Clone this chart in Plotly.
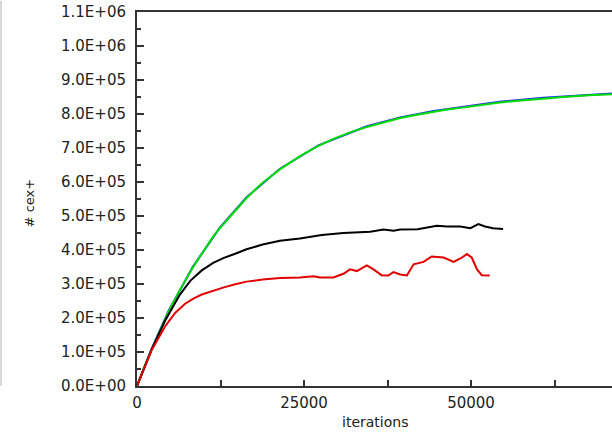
import plotly.graph_objects as go

# iterations / values
green_x = [0, 1000, 2200, 3500, 4700, 6400, 8400, 10000, 11400, 12400, 14500, 16400, 18800, 21400,
           24400, 27150, 29400, 31900, 34400, 36900, 39400, 41900, 44400, 46400, 48400, 51300,
           54300, 57500, 60800, 64300, 67600, 71100]
green_y = [0, 52000, 108000, 168000, 218000, 282000, 350000, 398000, 440000, 464000, 512000, 553000,
           598000, 637000, 676000, 706000, 727000, 746000, 762000, 776000, 788000, 798000, 807000,
           813000, 818000, 826000, 834000, 840000, 846000, 851000, 855000, 858000]
blue_x = [0, 2200, 4700, 8400, 12400, 16400, 21400, 27150, 34400, 39400, 44400, 48400, 54300,
          60800, 67600, 71100]
blue_y = [0, 110000, 220000, 352000, 466000, 555000, 639000, 708000, 764000, 790000, 809000,
          820000, 836000, 848000, 856000, 860000]
black_x = [0, 2200, 4200, 5200, 6400, 8000, 9700, 11400, 13000, 14700, 16400, 18800, 21400, 24400,
           25400, 27650, 30900, 34900, 36900, 38400, 39400, 42000, 44900, 46400, 48400, 49900,
           51100, 52100, 53300, 54800]
black_y = [0, 108000, 192000, 225000, 268000, 310000, 340000, 362000, 377000, 389000, 402000,
           416000, 427000, 434000, 437000, 444000, 450000, 454000, 460000, 457000, 460000, 461000,
           471000, 469000, 469000, 464000, 476000, 469000, 464000, 462000]
red_x = [0, 2200, 4200, 5700, 7200, 8500, 9700, 11400, 13000, 14700, 16400, 18800, 21400, 24400,
         26400, 27400, 29400, 30900, 31900, 32900, 34400, 35400, 36600, 37600, 38400, 39400, 40400,
         41400, 42900, 44100, 45900, 47400, 48400, 49400, 50100, 50900, 51600, 52800]
red_y = [0, 106000, 175000, 215000, 242000, 258000, 269000, 281000, 290000, 299000, 307000, 313000,
         318000, 319000, 323000, 319000, 319000, 330000, 343000, 338000, 355000, 343000, 326000,
         325000, 335000, 328000, 325000, 358000, 365000, 381000, 378000, 365000, 375000, 388000,
         378000, 343000, 326000, 325000]

y_tickvals = [0, 100000, 200000, 300000, 400000, 500000, 600000, 700000, 800000, 900000, 1000000, 1100000]
y_ticktext = ["0.0E+00", "1.0E+05", "2.0E+05", "3.0E+05", "4.0E+05", "5.0E+05", "6.0E+05",
              "7.0E+05", "8.0E+05", "9.0E+05", "1.0E+06", "1.1E+06"]
x_tickvals = [0, 25000, 50000]
x_ticktext = ["0", "25000", "50000"]

FONT = "DejaVu Sans"
fig = go.Figure()
fig.add_trace(go.Scatter(x=blue_x, y=blue_y, mode="lines", line=dict(color="#2a2aff", width=2)))
fig.add_trace(go.Scatter(x=green_x, y=green_y, mode="lines", line=dict(color="#00dd00", width=2)))
fig.add_trace(go.Scatter(x=black_x, y=black_y, mode="lines", line=dict(color="#000000", width=2)))
fig.add_trace(go.Scatter(x=red_x, y=red_y, mode="lines", line=dict(color="#e00000", width=2)))

fig.update_layout(
    width=612, height=432,
    margin=dict(l=137, r=0, t=12, b=46),
    paper_bgcolor="white", plot_bgcolor="white",
    showlegend=False,
    font=dict(family=FONT, size=14, color="#222222"),
    xaxis=dict(range=[0, 71100], showgrid=False, zeroline=False,
               showline=True, linecolor="#333333", linewidth=2, mirror=True,
               tickvals=x_tickvals, ticktext=x_ticktext, ticks="inside", ticklen=6,
               tickwidth=2, tickcolor="#333333",
               minor=dict(tickvals=[12500, 37500, 62500], ticks="inside", ticklen=6,
                          tickwidth=2, tickcolor="#333333"),
               tickfont=dict(family=FONT, size=15), ticklabelstandoff=2),
    yaxis=dict(range=[0, 1100000], showgrid=False, zeroline=False,
               showline=True, linecolor="#333333", linewidth=2,
               tickvals=y_tickvals, ticktext=y_ticktext, ticks="inside", ticklen=7,
               tickwidth=2, tickcolor="#333333",
               minor=dict(dtick=50000, ticks="inside", ticklen=4, tickwidth=1.5,
                          tickcolor="#333333"),
               tickfont=dict(family=FONT, size=15), ticklabelstandoff=6),
    annotations=[
        dict(text="iterations", xref="paper", yref="paper", x=0.5, y=-0.095,
             xanchor="center", yanchor="middle", showarrow=False,
             font=dict(family=FONT, size=14, color="#222222")),
        dict(text="# cex+", xref="paper", yref="paper", x=-0.226, y=0.49,
             xanchor="center", yanchor="middle", showarrow=False, textangle=-90,
             font=dict(family=FONT, size=13, color="#222222")),
    ],
    shapes=[dict(type="line", xref="paper", yref="paper", x0=-0.2863, x1=-0.2863,
                 y0=0.0, y1=1.03, line=dict(color="#d8d8d8", width=2))],
)

fig.write_html("out.html")
